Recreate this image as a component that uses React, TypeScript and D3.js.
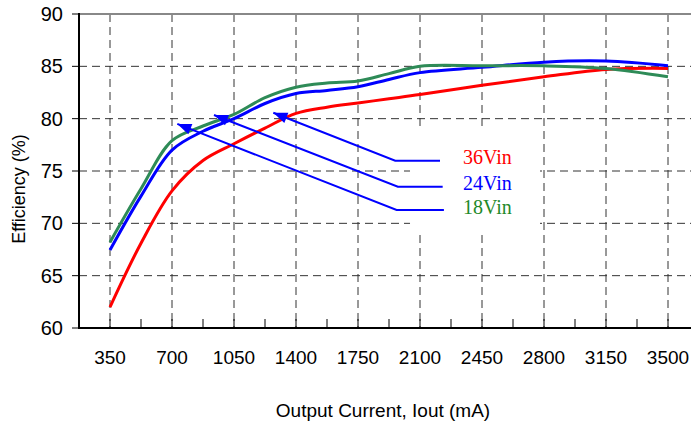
import * as d3 from 'd3';

// output current (mA) at which efficiency was read
const currents = [350, 525, 700, 875, 1050, 1225, 1400, 1575, 1750, 1925, 2100, 2450, 2800, 3150, 3500];
const eff36 = [62.0, 68.1, 73.1, 76.0, 77.6, 79.1, 80.5, 81.1, 81.5, 81.9, 82.3, 83.2, 84.0, 84.7, 84.8];
const eff24 = [67.45, 72.6, 77.0, 78.8, 80.0, 81.45, 82.4, 82.7, 83.05, 83.75, 84.4, 84.9, 85.4, 85.5, 85.05];
const eff18 = [68.2, 73.3, 77.9, 79.3, 80.4, 82.0, 83.0, 83.4, 83.6, 84.3, 85.0, 85.05, 85.05, 84.8, 84.0];

const seriesNames = ['36Vin', '24Vin', '18Vin'];
const seriesValues = [eff36, eff24, eff18];
const lineColors = ['#ff0000', '#0000ff', '#2e8b57'];
const labelColors = ['#ff0000', '#0000ff', '#1f8a2a'];

const xTicks = [350, 700, 1050, 1400, 1750, 2100, 2450, 2800, 3150, 3500];
const xMinorTicks = [525, 875, 1225, 1575, 1925, 2275, 2625, 2975, 3325];
const yTicks = [60, 65, 70, 75, 80, 85, 90];

// callout arrows (data coords): tip -> knee -> end of horizontal leader
const arrowTipX = [1272, 937, 730];
const arrowTipY = [80.57, 80.35, 79.5];
const arrowKneeX = [1960, 1975, 1968];
const arrowKneeY = [75.98, 73.5, 71.27];
const arrowEndX = [2213, 2228, 2235];

const W = 691;
const H = 423;
const left = 79;
const top = 14;
const bottom = 328;
const font = '"Liberation Sans", Arial, sans-serif';

function arrowHead(tx: number, ty: number, fx: number, fy: number, len = 14, half = 5.5) {
  const a = Math.atan2(ty - fy, tx - fx);
  const bx = tx - len * Math.cos(a);
  const by = ty - len * Math.sin(a);
  const px = -Math.sin(a) * half;
  const py = Math.cos(a) * half;
  return `M${tx},${ty}L${bx + px},${by + py}L${bx - px},${by - py}Z`;
}

export default function App() {
  const x = d3.scaleLinear().domain([175, 3675]).range([left, left + 620]);
  const y = d3.scaleLinear().domain([60, 90]).range([bottom, top]);

  const line = d3
    .line<number>()
    .x((_, i) => x(currents[i]))
    .y((v) => y(v))
    .curve(d3.curveCatmullRom.alpha(0.5));

  const labelX = x(arrowEndX[0]) + 23;
  const firstBase = y(arrowKneeY[0]) + 3.5;
  const lastBase = y(arrowKneeY[2]) + 3.5;

  return (
    <svg
      width={W}
      height={H}
      style={{ position: 'absolute', left: 0, top: 0, background: '#fff' }}
    >
      {/* grid */}
      {yTicks.slice(1, -1).map((t) => (
        <line key={'gy' + t} x1={left} x2={W} y1={y(t)} y2={y(t)} stroke="#333" strokeWidth={1} strokeDasharray="8,5" />
      ))}
      {xTicks.map((t) => (
        <line key={'gx' + t} x1={x(t)} x2={x(t)} y1={top} y2={bottom} stroke="#333" strokeWidth={1} strokeDasharray="8,5" />
      ))}
      <line x1={left} x2={W} y1={top} y2={top} stroke="#888" strokeWidth={2} />

      {/* label box hides the grid */}
      <rect x={labelX - 53} y={firstBase - 37} width={130} height={lastBase - firstBase + 56} fill="#fff" />

      {/* curves */}
      {seriesValues.map((vals, i) => (
        <path key={seriesNames[i]} d={line(vals) || ''} fill="none" stroke={lineColors[i]} strokeWidth={3} />
      ))}

      {/* callouts */}
      {seriesNames.map((name, i) => {
        const tx = x(arrowTipX[i]);
        const ty = y(arrowTipY[i]);
        const kx = x(arrowKneeX[i]);
        const ky = y(arrowKneeY[i]);
        const pts: [number, number][] = [
          [tx, ty],
          [kx, ky],
          [x(arrowEndX[i]), ky],
        ];
        return (
          <g key={'a' + name}>
            <path d={d3.line()(pts) || ''} fill="none" stroke="#0000ff" strokeWidth={2} />
            <path d={arrowHead(tx, ty, kx, ky)} fill="#0000ff" />
            <text
              x={labelX}
              y={ky + 3.5}
              fill={labelColors[i]}
              fontFamily='"Liberation Serif", "Times New Roman", serif'
              fontSize={20}
            >
              {name}
            </text>
          </g>
        );
      })}

      {/* axes */}
      <line x1={left} x2={left} y1={top - 1} y2={bottom + 1} stroke="#000" strokeWidth={2} />
      <line x1={left} x2={W} y1={bottom} y2={bottom} stroke="#000" strokeWidth={2} />
      {yTicks.map((t) => (
        <g key={'ty' + t}>
          <line x1={left - 7} x2={left} y1={y(t)} y2={y(t)} stroke="#000" strokeWidth={1} />
          <text x={left - 16} y={y(t)} dy="0.35em" textAnchor="end" fontFamily={font} fontSize={20}>
            {t}
          </text>
        </g>
      ))}
      {xTicks.concat(xMinorTicks).map((t) => (
        <line key={'tx' + t} x1={x(t)} x2={x(t)} y1={bottom} y2={bottom - 9} stroke="#000" strokeWidth={1} />
      ))}
      {xTicks.map((t) => (
        <text key={'lx' + t} x={x(t)} y={364} textAnchor="middle" fontFamily={font} fontSize={19}>
          {t}
        </text>
      ))}

      <text x={383} y={417} textAnchor="middle" fontFamily={font} fontSize={19}>
        Output Current, Iout (mA)
      </text>
      <text
        transform={`translate(25,189) rotate(-90)`}
        textAnchor="middle"
        fontFamily={font}
        fontSize={18}
      >
        Efficiency (%)
      </text>
    </svg>
  );
}
